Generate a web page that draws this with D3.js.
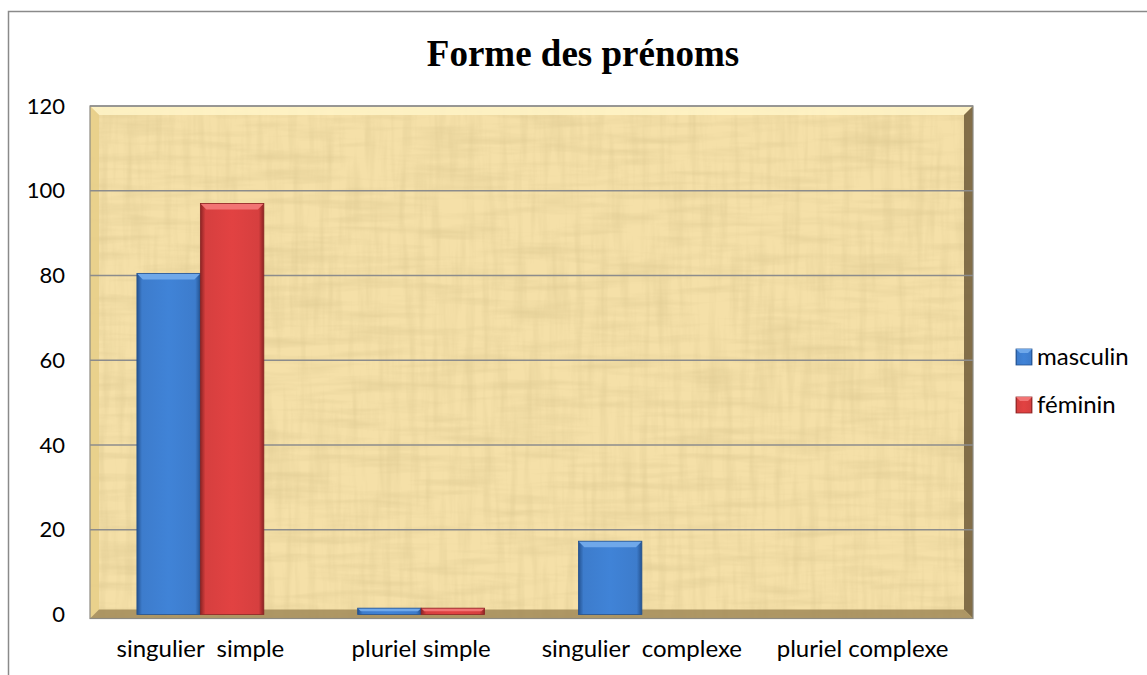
<!DOCTYPE html>
<html>
<head>
<meta charset="utf-8">
<script src="https://cdn.jsdelivr.net/npm/d3@7"></script>
<style>
  body { margin: 0; background: #fff; }
  svg text { font-family: Lato, "Open Sans", sans-serif; }
</style>
</head>
<body>
<svg id="chart" width="1147" height="675"></svg>
<script>
const categories = ["singulier  simple", "pluriel simple", "singulier  complexe", "pluriel complexe"];
const seriesNames = ["masculin", "féminin"];
const masculin = [80.5, 1.5, 17.3, 0];
const feminin = [97, 1.5, 0, 0];
const yTicks = [0, 20, 40, 60, 80, 100, 120];

const colors = {
  masculin: { main: "#3d7ccc", light: "#6fa8ea", dark: "#24528f" },
  "féminin": { main: "#d63f3f", light: "#f27474", dark: "#8c2323" }
};

const svg = d3.select("#chart");
const margin = { top: 106, right: 174, bottom: 60, left: 90 };
const W = 1147, H = 675;
const x0 = margin.left, x1 = W - margin.right, y0 = margin.top, yb = 614.5;

const defs = svg.append("defs");

// papyrus-like texture, two fibre directions
function paper(id, freq, seed, alpha) {
  const f = defs.append("filter").attr("id", id).attr("x", 0).attr("y", 0).attr("width", 1).attr("height", 1);
  f.append("feTurbulence").attr("type", "fractalNoise").attr("baseFrequency", freq).attr("numOctaves", 3).attr("seed", seed).attr("result", "n");
  f.append("feColorMatrix").attr("in", "n").attr("type", "matrix")
    .attr("values", `0 0 0 0 0.72  0 0 0 0 0.58  0 0 0 0 0.28  0 0 0 ${alpha} ${-alpha * 0.42}`);
}
paper("paperH", "0.012 0.11", 4, 1.1);
paper("paperV", "0.12 0.012", 9, 0.9);

function barGrad(id, c) {
  const g = defs.append("linearGradient").attr("id", id).attr("x1", 0).attr("x2", 1).attr("y1", 0).attr("y2", 0);
  g.append("stop").attr("offset", 0).attr("stop-color", c.dark);
  g.append("stop").attr("offset", 0.08).attr("stop-color", c.main);
  g.append("stop").attr("offset", 0.5).attr("stop-color", d3.color(c.main).brighter(0.15));
  g.append("stop").attr("offset", 0.92).attr("stop-color", c.main);
  g.append("stop").attr("offset", 1).attr("stop-color", c.dark);
}
barGrad("g-masculin", colors.masculin);
barGrad("g-féminin", colors["féminin"]);

// outer frame
svg.append("path").attr("d", `M8.5,${H} V11.5 H${W}`).attr("fill", "none").attr("stroke", "#8a8a8a").attr("stroke-width", 1.5);

// title
svg.append("text").attr("x", 583).attr("y", 66).attr("text-anchor", "middle")
  .style("font-family", "'Liberation Serif', 'DejaVu Serif', serif").style("font-weight", "bold").style("font-size", "37px")
  .text("Forme des prénoms");

const x = d3.scaleBand().domain(categories).range([x0, x1]).paddingInner(0.425).paddingOuter(0.2125);
const xs = d3.scaleBand().domain(seriesNames).range([0, x.bandwidth()]);
const y = d3.scaleLinear().domain([0, 120]).range([yb, y0]);

// plot background
const pw = x1 - x0, ph = yb - y0 + 4;
svg.append("rect").attr("x", x0).attr("y", y0).attr("width", pw).attr("height", ph).attr("fill", "#f5e0a8");
svg.append("rect").attr("x", x0).attr("y", y0).attr("width", pw).attr("height", ph).attr("filter", "url(#paperH)");
svg.append("rect").attr("x", x0).attr("y", y0).attr("width", pw).attr("height", ph).attr("filter", "url(#paperV)");
// bevel edges
const b = 9;
const bev = svg.append("g");
bev.append("polygon").attr("points", `${x0},${y0} ${x1},${y0} ${x1 - b},${y0 + b} ${x0 + b},${y0 + b}`).attr("fill", "#fff4c8").attr("opacity", 0.85);
bev.append("polygon").attr("points", `${x0},${y0} ${x0 + b},${y0 + b} ${x0 + b},${y0 + ph - b} ${x0},${y0 + ph}`).attr("fill", "#e8cf8a").attr("opacity", 0.9);
bev.append("polygon").attr("points", `${x1},${y0} ${x1},${y0 + ph} ${x1 - b},${y0 + ph - b} ${x1 - b},${y0 + b}`).attr("fill", "#6e5a38").attr("opacity", 0.85);
bev.append("polygon").attr("points", `${x0},${y0 + ph} ${x1},${y0 + ph} ${x1 - b},${y0 + ph - b} ${x0 + b},${y0 + ph - b}`).attr("fill", "#9c8554").attr("opacity", 0.8);
svg.append("rect").attr("x", x0).attr("y", y0).attr("width", pw).attr("height", ph).attr("fill", "none").attr("stroke", "#8d8a82").attr("stroke-width", 1.2);

// gridlines
svg.append("g").selectAll("line").data(yTicks.filter(t => t > 0)).join("line")
  .attr("x1", x0).attr("x2", x1).attr("y1", d => y(d)).attr("y2", d => y(d))
  .attr("stroke", "#8c8c8c").attr("stroke-width", 1.5);

// y axis labels
const yAxis = d3.axisLeft(y).tickValues(yTicks).tickSize(0).tickPadding(25);
svg.append("g").attr("transform", `translate(${x0},0)`).call(yAxis)
  .call(g => g.select(".domain").remove())
  .selectAll("text").style("font-size", "22px").style("font-family", "Lato, sans-serif").attr("fill", "#000");

// bars
const rows = categories.map((c, i) => [
  { cat: c, s: "masculin", v: masculin[i] },
  { cat: c, s: "féminin", v: feminin[i] }
]).flat().filter(d => d.v > 0);

const bars = svg.append("g").selectAll("g").data(rows).join("g");
bars.each(function (d) {
  const g = d3.select(this);
  const bx = x(d.cat) + xs(d.s), bw = xs.bandwidth();
  const top = y(d.v), h = yb - top;
  const c = colors[d.s];
  g.append("rect").attr("x", bx).attr("y", top).attr("width", bw).attr("height", h).attr("fill", `url(#g-${d.s})`);
  const e = Math.min(6, h / 2);
  g.append("polygon").attr("points", `${bx},${top} ${bx + bw},${top} ${bx + bw - e},${top + e} ${bx + e},${top + e}`).attr("fill", c.light);
  g.append("rect").attr("x", bx).attr("y", top).attr("width", bw).attr("height", h).attr("fill", "none").attr("stroke", c.dark).attr("stroke-width", 0.8);
});

// x labels
svg.append("g").selectAll("text").data(categories).join("text")
  .attr("x", d => x(d) + x.bandwidth() / 2).attr("y", 657).attr("text-anchor", "middle")
  .style("font-size", "24px").style("white-space", "pre").attr("xml:space", "preserve")
  .text(d => d);

// legend
const leg = svg.append("g").attr("transform", "translate(1016,349)");
seriesNames.forEach((s, i) => {
  const g = leg.append("g").attr("transform", `translate(0,${i * 48})`);
  g.append("rect").attr("width", 16).attr("height", 16).attr("fill", `url(#g-${s})`).attr("stroke", colors[s].dark).attr("stroke-width", 0.8);
  g.append("polygon").attr("points", "0,0 16,0 12,4 4,4").attr("fill", colors[s].light);
  g.append("text").attr("x", 21).attr("y", 16).style("font-size", "24px").text(s);
});
</script>
</body>
</html>
